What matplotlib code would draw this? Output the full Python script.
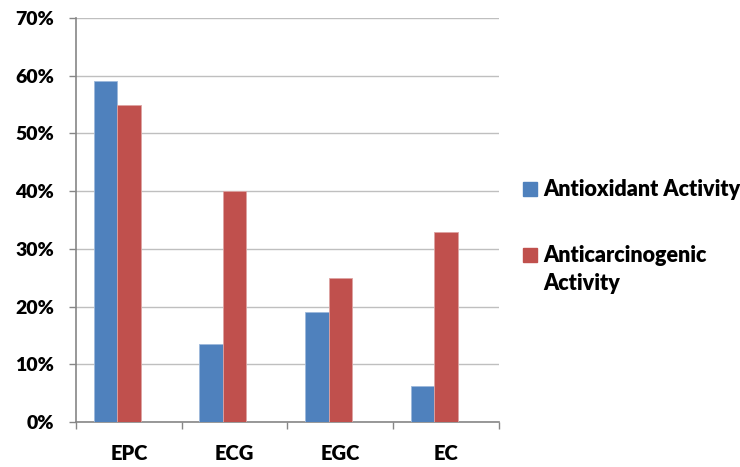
import numpy as np
import matplotlib.pyplot as plt
from matplotlib.patches import Rectangle
from matplotlib.ticker import FixedLocator

categories = ["EPC", "ECG", "EGC", "EC"]
antioxidant = [59, 13.5, 19, 6.3]
anticarcinogenic = [55, 40, 25, 33]
series_names = ["Antioxidant Activity", "Anticarcinogenic\nActivity"]
yticks = [0, 10, 20, 30, 40, 50, 60, 70]
ytick_labels = ["0%", "10%", "20%", "30%", "40%", "50%", "60%", "70%"]

blue = "#4F81BD"
red = "#C0504D"

plt.rcParams['font.family'] = ['Lato', 'DejaVu Sans']
plt.rcParams['font.weight'] = 'heavy'

fig = plt.figure(figsize=(7.4, 4.67), dpi=100)
ax = fig.add_axes([0.1027, 0.0964, 0.5716, 0.8651])

x = np.arange(len(categories))
w = 1 / 4.5  # Excel-style: three slots per group (third empty), gap 150%
ax.bar(x - w, antioxidant, width=w, color=blue, edgecolor="#9DB9DB", linewidth=0.6, zorder=3)
ax.bar(x, anticarcinogenic, width=w, color=red, edgecolor="#DDA3A2", linewidth=0.6, zorder=3)

ax.set_xlim(-0.5, len(categories) - 0.5)
ax.set_ylim(0, 70)
ax.set_yticks(yticks)
ax.set_yticklabels(ytick_labels)
ax.yaxis.grid(True, color="#BFBFBF", linewidth=1.0, zorder=0)
ax.tick_params(axis='y', length=5, width=1, color="#868686", pad=11, labelsize=14)

ax.set_xticks(x)
ax.set_xticklabels(categories)
ax.tick_params(axis='x', which='major', length=0, pad=16, labelsize=14.5)
ax.xaxis.set_minor_locator(FixedLocator(np.arange(-0.5, len(categories), 1.0)))
ax.tick_params(axis='x', which='minor', length=5, width=1, color="#868686")

for s in ['top', 'right']:
    ax.spines[s].set_visible(False)
for s in ['left', 'bottom']:
    ax.spines[s].set_color("#868686")
    ax.spines[s].set_linewidth(1.2)

# legend, drawn by hand to match the wrapped second label
W, H = 740, 467
for name, col, ytop in zip(series_names, [blue, red], [182, 248]):
    fig.patches.append(Rectangle((523 / W, 1 - (ytop + 14) / H), 14 / W, 14 / H,
                                 transform=fig.transFigure, color=col))
    fig.text(543 / W, 1 - (ytop - 3) / H, name, ha='left', va='top', fontsize=15.5,
             linespacing=1.4)

fig.savefig("out.png", dpi=100)
